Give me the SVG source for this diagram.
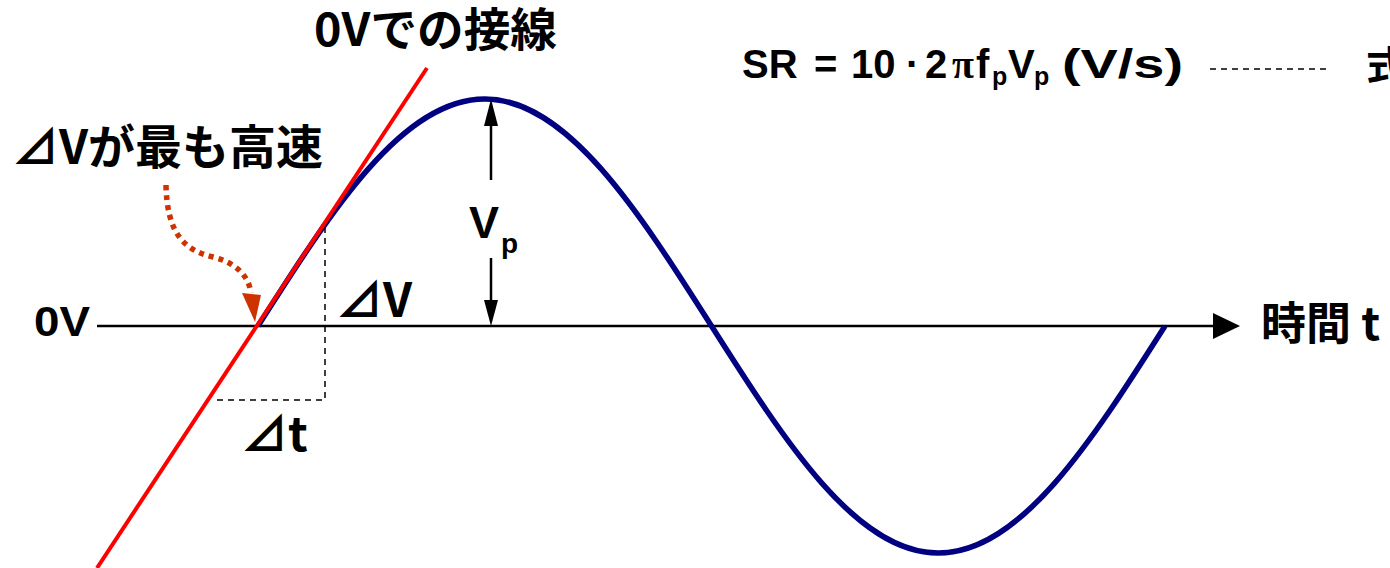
<svg xmlns="http://www.w3.org/2000/svg" width="1390" height="568" viewBox="0 0 1390 568">
<style>
.lat{font-family:"Liberation Sans",Arial,sans-serif;font-weight:bold;fill:#000}
.jp{font-family:"Noto Sans CJK JP","Liberation Sans",sans-serif;font-weight:bold;fill:#000}
.ser{font-family:"Liberation Serif",serif;font-weight:bold;fill:#000}
.dash{stroke:#000;stroke-width:1.5;stroke-dasharray:6,5;fill:none}
</style>
<rect width="1390" height="568" fill="#fff"/>
<g id="connectors">
  <line x1="97" y1="326" x2="1216" y2="326" stroke="#000" stroke-width="2.5"/>
  <polygon points="1213,313 1240,326 1213,339" fill="#000"/>
  <path id="sine" d="M258,326 C331.95,209.7 402.7,99 484.75,99 C566.8,99 637.55,209.7 711.5,326 C785.45,442.3 856.2,553 938.25,553 C1020.3,553 1091.05,442.3 1165,326" fill="none" stroke="#000080" stroke-width="5.5"/>
  <line x1="97" y1="568" x2="427" y2="68" stroke="#ff0000" stroke-width="4"/>
  <polyline class="dash" points="325,227 325,400 212,400"/>
  <line x1="491" y1="180" x2="491" y2="120" stroke="#000" stroke-width="2.5"/>
  <polygon points="491,99 484,126 498,126" fill="#000"/>
  <line x1="491" y1="258" x2="491" y2="304" stroke="#000" stroke-width="2.5"/>
  <polygon points="484,300 498,300 491,326" fill="#000"/>
  <path d="M166,185 C167,232 183,250 213,257 C238,263 249,278 251,293" fill="none" stroke="#cc3300" stroke-width="5.5" stroke-dasharray="5,5"/>
  <polygon points="242,293 261,295 255,322" fill="#cc3300"/>
  <line class="dash" x1="1210" y1="69" x2="1328" y2="69" stroke-dasharray="7,5"/>
</g>
<g id="label-tangent"><text class="jp" x="314" y="46" font-size="46" textLength="243" lengthAdjust="spacingAndGlyphs">0Vでの接線</text></g>
<g id="label-fastest"><text class="jp" x="12" y="164" font-size="47">⊿Vが最も高速</text></g>
<g id="label-0v"><text class="lat" x="34" y="336" font-size="43" textLength="56" lengthAdjust="spacingAndGlyphs">0V</text></g>
<g id="label-time"><text class="jp" x="1261" y="340" font-size="45">時間 t</text></g>
<g id="label-dv"><text class="jp" x="336" y="317" font-size="47">⊿V</text></g>
<g id="label-dt"><text class="jp" x="241" y="451" font-size="47">⊿t</text></g>
<g id="label-vp"><text class="lat" x="469" y="238" font-size="45">V</text><text class="lat" x="501" y="253" font-size="28">p</text></g>
<g id="formula">
  <text class="lat" x="742" y="78" font-size="40">SR</text>
  <text class="lat" x="814" y="78" font-size="40">=</text>
  <text class="lat" x="851" y="78" font-size="40">10</text>
  <text class="lat" x="906" y="78" font-size="40">·</text>
  <text class="lat" x="925" y="78" font-size="40">2</text>
  <text class="ser" x="952" y="78" font-size="40">π</text>
  <text class="lat" x="976" y="78" font-size="40">f</text>
  <text class="lat" x="992" y="85" font-size="25">p</text>
  <text class="lat" x="1008" y="78" font-size="40">V</text>
  <text class="lat" x="1034" y="85" font-size="25">p</text>
  <text class="lat" x="1062" y="78" font-size="40" textLength="121" lengthAdjust="spacingAndGlyphs">(V/s)</text>
  <text class="jp" x="1366" y="80" font-size="40">式</text>
</g>
</svg>
